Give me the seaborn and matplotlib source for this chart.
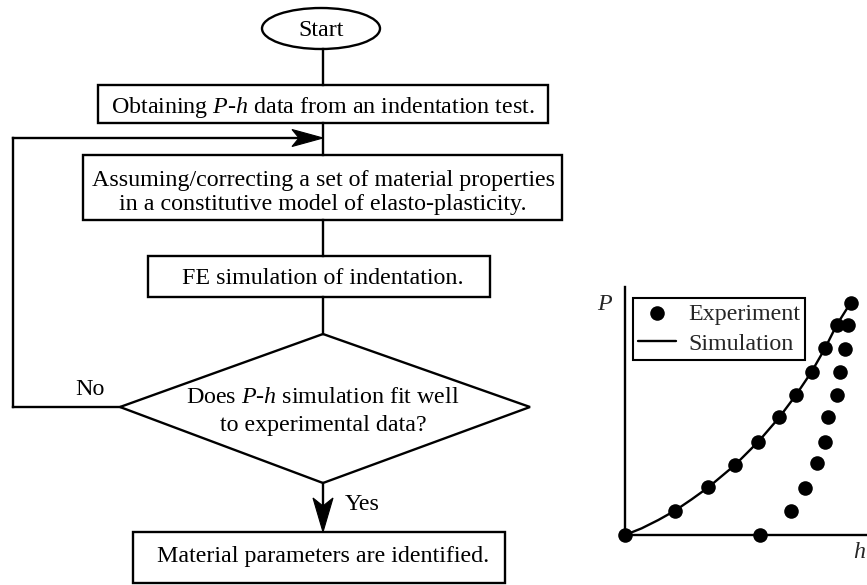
import matplotlib
matplotlib.use("Agg")
import matplotlib.pyplot as plt
from matplotlib.patches import Ellipse, Rectangle, Polygon
import seaborn as sns
import pandas as pd

# ---- data (P-h inset) ----
load_h = [0.0, 1.50, 2.50, 3.30, 4.00, 4.63, 5.13, 5.60, 6.00, 6.35, 6.77]
load_P = [0.0, 0.73, 1.43, 2.10, 2.80, 3.53, 4.20, 4.90, 5.60, 6.30, 6.97]
unload_h = [6.70, 6.60, 6.45, 6.35, 6.10, 6.00, 5.75, 5.40, 4.97, 4.05]
unload_P = [6.30, 5.57, 4.90, 4.20, 3.53, 2.80, 2.15, 1.40, 0.73, 0.0]
sim_h = [0.0, 0.5, 1.0, 1.5, 2.0, 2.5, 3.3, 4.0, 4.63, 5.13, 5.6, 6.0, 6.35, 6.77]
sim_P = [0.0, 0.20, 0.45, 0.73, 1.07, 1.43, 2.10, 2.80, 3.53, 4.20, 4.90, 5.60, 6.30, 6.97]

# ---- flowchart texts ----
start_text = "Start"
step1_text = "Obtaining $P$-$h$ data from an indentation test."
step2_lines = ["Assuming/correcting a set of material properties",
               "in a constitutive model of elasto-plasticity."]
step3_text = "FE simulation of indentation."
decision_lines = ["Does $P$-$h$ simulation fit well", "to experimental data?"]
no_text = "No"
yes_text = "Yes"
final_text = "Material parameters are identified."

sns.set_theme(style="white")
plt.rcParams['font.family'] = ['Liberation Serif', 'DejaVu Serif']
plt.rcParams['mathtext.fontset'] = 'custom'
plt.rcParams['mathtext.rm'] = 'Liberation Serif'
plt.rcParams['mathtext.it'] = 'Liberation Serif:italic'

FS = 17.3
LW = 1.7

fig = plt.figure(figsize=(8.67, 5.85), dpi=100)
ax = fig.add_axes([0, 0, 1, 1])
ax.set_xlim(0, 867)
ax.set_ylim(585, 0)
ax.axis('off')

def box(x0, y0, x1, y1):
    ax.add_patch(Rectangle((x0, y0), x1 - x0, y1 - y0, fill=False,
                           edgecolor='black', lw=LW))

def line(xs, ys):
    ax.plot(xs, ys, color='black', lw=LW, solid_capstyle='projecting')

def txt(x, y, s, ha='center'):
    ax.text(x, y, s, ha=ha, va='baseline', fontsize=FS, color='black')

cx = 323
# Start
ax.add_patch(Ellipse((321, 28.5), 118, 41, fill=False, edgecolor='black', lw=LW))
txt(321, 36, start_text)
line([cx, cx], [49, 85])
# Box 1
box(98, 85, 548, 123)
txt(cx, 113, step1_text)
line([cx, cx], [123, 155])
# Loop back line + arrowhead (stealth shape)
line([13, 13], [407, 138])
line([13, 300], [138, 138])
ax.add_patch(Polygon([(cx, 138), (292, 129.5), (299, 138), (292, 146.5)],
                     closed=True, facecolor='black', edgecolor='black', lw=0.8))
# Box 2
box(83, 155, 562, 220)
txt(cx, 186, step2_lines[0])
txt(cx, 210, step2_lines[1])
line([cx, cx], [220, 256])
# Box 3
box(148, 256, 490, 297)
txt(cx, 284, step3_text)
line([cx, cx], [297, 334])
# Diamond
ax.add_patch(Polygon([(cx, 334), (530, 407), (cx, 483), (120, 407)],
                     closed=True, fill=False, edgecolor='black', lw=LW))
txt(cx, 403, decision_lines[0])
txt(cx, 431, decision_lines[1])
line([13, 120], [407, 407])
txt(90, 395, no_text)
# Yes arrow
line([cx, cx], [483, 505])
ax.add_patch(Polygon([(cx, 532), (313, 498), (cx, 506), (333, 498)],
                     closed=True, facecolor='black', edgecolor='black', lw=0.8))
txt(345, 510, yes_text, ha='left')
# Box 4
box(133, 532, 505, 583)
txt(cx, 562, final_text)

# ---- inset P-h plot ----
x0p, y0p, x1p, y1p = 625, 287, 867, 535
iax = fig.add_axes([x0p / 867, (585 - y1p) / 585, (x1p - x0p) / 867, (y1p - y0p) / 585])
iax.set_facecolor('none')

exp_df = pd.DataFrame({'h': load_h + unload_h, 'P': load_P + unload_P})
sim_df = pd.DataFrame({'h': sim_h, 'P': sim_P})

sns.lineplot(data=sim_df, x='h', y='P', ax=iax, color='black', lw=1.7,
             label='Simulation', sort=False)
sns.scatterplot(data=exp_df, x='h', y='P', ax=iax, color='black', s=110,
                edgecolor='black', linewidth=0, label='Experiment', clip_on=False,
                zorder=5)

iax.set_xlim(0, 7.26)
iax.set_ylim(0, 7.44)
iax.set_xticks([])
iax.set_yticks([])
iax.set_xlabel('')
iax.set_ylabel('')
for side in ['top', 'right']:
    iax.spines[side].set_visible(False)
for side in ['left', 'bottom']:
    iax.spines[side].set_color('black')
    iax.spines[side].set_linewidth(1.7)

handles, labels = iax.get_legend_handles_labels()
order = [labels.index('Experiment'), labels.index('Simulation')]
leg = iax.legend([handles[i] for i in order], [labels[i] for i in order],
                 loc='upper left', bbox_to_anchor=(0.033, 0.956), borderaxespad=0,
                 frameon=True, fancybox=False, framealpha=1, edgecolor='black',
                 fontsize=FS, handlelength=1.6, handletextpad=0.5,
                 borderpad=0.2, labelspacing=0.35, markerscale=1.0)
leg.get_frame().set_linewidth(1.5)

ax.text(605, 310, '$P$', ha='center', va='baseline', fontsize=FS)
ax.text(866, 558, '$h$', ha='right', va='baseline', fontsize=FS)

fig.savefig('out.png', dpi=100)
